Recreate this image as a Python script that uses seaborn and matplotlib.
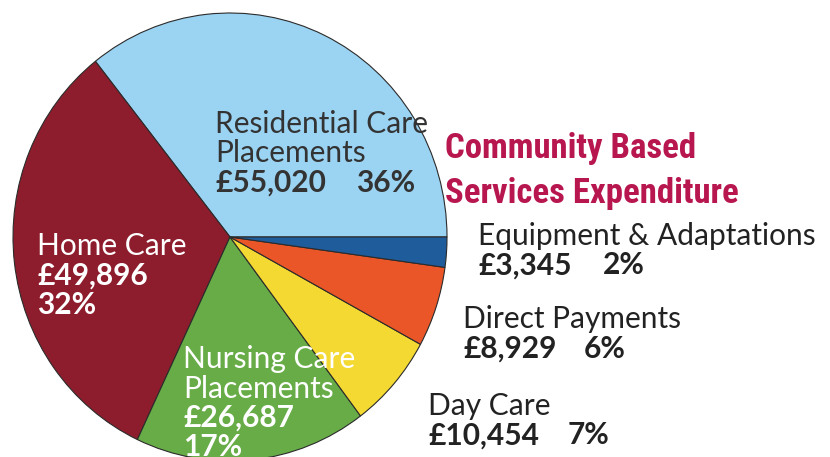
import matplotlib
matplotlib.use("Agg")
import matplotlib.pyplot as plt
import seaborn as sns

# ---- data ----
categories = ["Residential Care Placements", "Home Care", "Nursing Care Placements",
              "Day Care", "Direct Payments", "Equipment & Adaptations"]
amounts = [55020, 49896, 26687, 10454, 8929, 3345]
percents = ["36%", "32%", "17%", "7%", "6%", "2%"]
title_lines = ["Community Based", "Services Expenditure"]

colors = ["#9BD3F2", "#8D1D2C", "#67AC47", "#F4D932", "#EA5627", "#1F5C9C"]

sns.set_theme(style="white")
label_font = ["Lato", "DejaVu Sans"]
title_font = ["Roboto Condensed", "Roboto", "DejaVu Sans"]

W, H = 830, 457
fig = plt.figure(figsize=(W / 100, H / 100), dpi=100)
ax = fig.add_axes([0, 0, 1, 1])

# pie centre at pixel (230, 237), radius ~217 px across, 224 px tall
cx, cy, rx, ry = 230, 237, 217, 224
ax.pie(amounts, colors=colors, startangle=0, counterclock=True, radius=1,
       wedgeprops=dict(edgecolor="#2b2b2b", linewidth=0.8))
ax.set_aspect("auto")
ax.set_xlim(-cx / rx, (W - cx) / rx)
ax.set_ylim(-(H - cy) / ry, cy / ry)
ax.axis("off")


def put(x, y, s, **kw):
    fig.text(x / W, 1 - y / H, s, va="baseline", ha="left", **kw)


# label layout: x, baseline of first line, colour, lines of name, pct on own line, pct x
layout = {
    "Residential Care Placements": (215, 133, "#333333", ["Residential Care", "Placements"], False, 356),
    "Home Care": (37, 255, "white", ["Home Care"], True, None),
    "Nursing Care Placements": (183, 368, "white", ["Nursing Care", "Placements"], True, None),
    "Day Care": (428, 415, "#222222", ["Day Care"], False, 568),
    "Direct Payments": (463, 328, "#222222", ["Direct Payments"], False, 584),
    "Equipment & Adaptations": (478, 245, "#222222", ["Equipment & Adaptations"], False, 603),
}
fs = 21.5
step = 29.5
for cat, amt, pct in zip(categories, amounts, percents):
    x, y, col, lines, own_line, px = layout[cat]
    for i, line in enumerate(lines):
        put(x, y + i * step, line, color=col, fontsize=fs, family=label_font)
    yb = y + len(lines) * step
    put(x, yb, f"£{amt:,}", color=col, fontsize=fs, family=label_font, fontweight="bold")
    if own_line:
        put(x, yb + step, pct, color=col, fontsize=fs, family=label_font, fontweight="bold")
    else:
        put(px, yb, pct, color=col, fontsize=fs, family=label_font, fontweight="bold")

for i, line in enumerate(title_lines):
    put(445, 158 + i * 45, line, color="#B8164E", fontsize=25, family=title_font,
        fontweight="bold")

fig.savefig("out.png", dpi=100)
